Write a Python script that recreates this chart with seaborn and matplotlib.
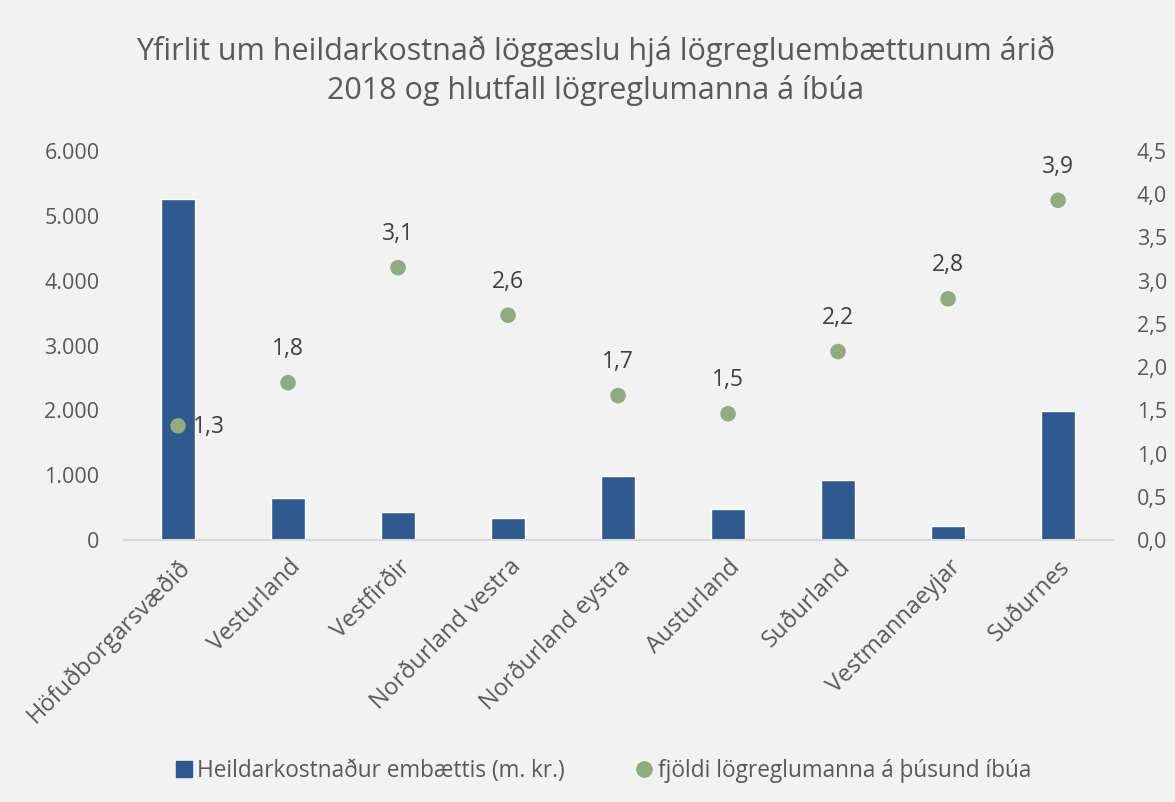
import seaborn as sns
import pandas as pd
import matplotlib.pyplot as plt
from matplotlib.lines import Line2D
from matplotlib.ticker import FuncFormatter
from matplotlib.transforms import ScaledTranslation

# gögn lesin af myndinni
umdaemi = ["Höfuðborgarsvæðið", "Vesturland", "Vestfirðir", "Norðurland vestra",
           "Norðurland eystra", "Austurland", "Suðurland", "Vestmannaeyjar", "Suðurnes"]
kostnadur = [5255, 640, 425, 345, 980, 475, 925, 215, 1990]
logreglumenn = [1.32, 1.82, 3.15, 2.60, 1.67, 1.46, 2.18, 2.79, 3.93]

df = pd.DataFrame({"Umdæmi": umdaemi, "Kostnaður": kostnadur, "Hlutfall": logreglumenn})

blar = "#2E5A8F"
graenn = "#8EAC7D"
grar = "#595959"

sns.set_style("white")
plt.rcParams["font.family"] = ["Open Sans", "DejaVu Sans"]

fig = plt.figure(figsize=(11.75, 8.02), dpi=100, facecolor="#F2F2F2")
ax = fig.add_axes([0.1047, 0.3267, 0.8426, 0.485])
ax.set_facecolor("#F2F2F2")

sns.barplot(data=df, x="Umdæmi", y="Kostnaður", color=blar, width=0.315,
            saturation=1, ax=ax)

ax2 = ax.twinx()
sns.scatterplot(data=df, x="Umdæmi", y="Hlutfall", color=graenn, s=125,
                edgecolor="none", ax=ax2, legend=False, zorder=5)

ax.set_xlim(-0.5, len(umdaemi) - 0.5)
ax.set_ylim(0, 6000)
ax2.set_ylim(0, 4.5)
ax.set_yticks(range(0, 6001, 1000))
ax2.set_yticks([i * 0.5 for i in range(10)])
ax.yaxis.set_major_formatter(FuncFormatter(lambda v, p: f"{int(v):,}".replace(",", ".")))
ax2.yaxis.set_major_formatter(FuncFormatter(lambda v, p: f"{v:.1f}".replace(".", ",")))

ax.set_xticks(range(len(umdaemi)))
ax.set_xticklabels(umdaemi, rotation=45, ha="right", va="center", rotation_mode="anchor")
ax.tick_params(axis="x", length=0, pad=17, labelsize=17, labelcolor=grar)
ax.tick_params(axis="y", length=0, pad=17, labelsize=15.5, labelcolor=grar)
ax2.tick_params(axis="y", length=0, pad=17, labelsize=15.5, labelcolor=grar)
ax.set_xlabel("")
ax.set_ylabel("")
ax2.set_ylabel("")

# færa flokkaheitin aðeins til hægri
hlidrun = ScaledTranslation(9 / 100, 0, fig.dpi_scale_trans)
for lbl in ax.get_xticklabels():
    lbl.set_transform(lbl.get_transform() + hlidrun)

for s in ["top", "left", "right"]:
    ax.spines[s].set_visible(False)
for s in ax2.spines.values():
    s.set_visible(False)
ax.spines["bottom"].set_color("#D9D9D9")
ax.spines["bottom"].set_linewidth(1.5)

# gildismerki
for i, v in enumerate(logreglumenn):
    txt = f"{v:.1f}".replace(".", ",")
    if i == 0:
        ax2.annotate(txt, (i, v), xytext=(11, -1), textcoords="offset points",
                     ha="left", va="center", fontsize=16.5, color="#404040")
    else:
        ax2.annotate(txt, (i, v), xytext=(0, 24), textcoords="offset points",
                     ha="center", va="center", fontsize=16.5, color="#404040")

fig.suptitle("Yfirlit um heildarkostnað löggæslu hjá lögregluembættunum árið\n"
             "2018 og hlutfall lögreglumanna á íbúa",
             x=0.507, y=0.955, va="top", fontsize=22, color=grar, linespacing=1.3)

handles = [
    Line2D([], [], marker="s", linestyle="none", color=blar, markersize=12),
    Line2D([], [], marker="o", linestyle="none", color=graenn, markersize=11),
]
fig.legend(handles, ["Heildarkostnaður embættis (m. kr.)", "fjöldi lögreglumanna á þúsund íbúa"],
           loc="center", bbox_to_anchor=(0.512, 0.0387), ncol=2, frameon=False,
           fontsize=16.3, labelcolor=grar, handletextpad=0.1, columnspacing=3.0,
           handlelength=1.0)

fig.savefig("out.png", dpi=100, facecolor=fig.get_facecolor())
